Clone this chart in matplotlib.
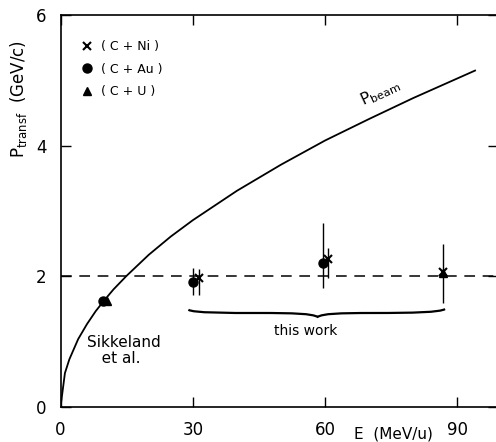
import matplotlib.pyplot as plt
import numpy as np
from matplotlib.path import Path
from matplotlib.patches import PathPatch

# beam momentum curve
e_beam = [0, 1, 2, 4, 6, 8, 10, 12, 15, 20, 25, 30, 40, 50, 60, 70, 80, 90, 94]
p_beam = [0, 0.52, 0.73, 1.04, 1.27, 1.47, 1.64, 1.80, 2.01, 2.33, 2.61, 2.86,
          3.31, 3.71, 4.08, 4.41, 4.73, 5.03, 5.15]

# C + Ni
e_ni = [31.3, 60.6, 86.7]
p_ni = [1.97, 2.27, 2.06]
err_ni_lo = [0.26, 0.29, 0.46]
err_ni_hi = [0.15, 0.17, 0.43]

# C + Au
e_au = [9.6, 30.0, 59.5]
p_au = [1.62, 1.91, 2.20]
err_au_lo = [0.0, 0.20, 0.37]
err_au_hi = [0.0, 0.22, 0.62]

# C + U
e_u = [10.6, 86.7]
p_u = [1.63, 2.05]

p_line = 2.0

fig = plt.figure(figsize=(4.96, 4.42), dpi=100)
ax = fig.add_axes([0.122, 0.079, 0.882, 0.887])

ax.plot(e_beam, p_beam, 'k-', lw=1.3)
ax.axhline(y=p_line, color='k', lw=1.1, dashes=(7, 5))

ax.errorbar(e_ni, p_ni, yerr=[err_ni_lo, err_ni_hi], fmt='none', ecolor='k', elinewidth=1.0)
ax.errorbar(e_au, p_au, yerr=[err_au_lo, err_au_hi], fmt='none', ecolor='k', elinewidth=1.0)
ax.plot(e_ni, p_ni, 'kx', ms=5.5, mew=1.5, ls='none', label='( C + Ni )')
ax.plot(e_au, p_au, 'ko', ms=6.5, ls='none', label='( C + Au )')
ax.plot(e_u, p_u, 'k^', ms=6, ls='none', label='( C + U )')

ax.legend(loc='upper left', bbox_to_anchor=(0.04, 0.948), frameon=False, fontsize=9,
          handlelength=0.7, handletextpad=0.7, labelspacing=0.75, borderaxespad=0)

# brace over "this work"
verts = [(29, 1.49), (30, 1.44), (38, 1.44), (45, 1.44),
         (53, 1.44), (57, 1.43), (58.3, 1.38),
         (59.5, 1.43), (63, 1.44), (71, 1.44),
         (80, 1.44), (86, 1.45), (87.2, 1.50)]
codes = [Path.MOVETO, Path.CURVE4, Path.CURVE4, Path.CURVE4,
         Path.CURVE4, Path.CURVE4, Path.CURVE4,
         Path.CURVE4, Path.CURVE4, Path.CURVE4,
         Path.CURVE4, Path.CURVE4, Path.CURVE4]
ax.add_patch(PathPatch(Path(verts, codes), fill=False, lw=1.6, color='k'))

ax.text(55.5, 1.16, 'this work', ha='center', va='center', fontsize=10)
ax.text(6.0, 0.87, 'Sikkeland\n   et al.', ha='left', va='center', fontsize=11,
        linespacing=1.1)
ax.text(72.5, 4.82, r'P$_{\mathrm{beam}}$', ha='center', va='center', fontsize=11.5,
        rotation=25, rotation_mode='anchor')

ax.set_xlim(0, 99.2)
ax.set_ylim(0, 6)
ax.set_xticks([0, 30, 60, 90])
ax.set_yticks([0, 2, 4, 6])
ax.tick_params(direction='in', length=7, width=1, labelsize=12, pad=10,
               top=True, right=True)
for s in ['left', 'bottom', 'top', 'right']:
    ax.spines[s].set_linewidth(1.2)

ax.set_ylabel(r'P$_{\mathrm{transf}}$  (GeV/c)', fontsize=12)
ax.yaxis.set_label_coords(-0.072, 0.785)
ax.set_xlabel('E  (MeV/u)', fontsize=11)
ax.xaxis.set_label_coords(0.76, -0.05)

fig.savefig('out.png', dpi=100)
